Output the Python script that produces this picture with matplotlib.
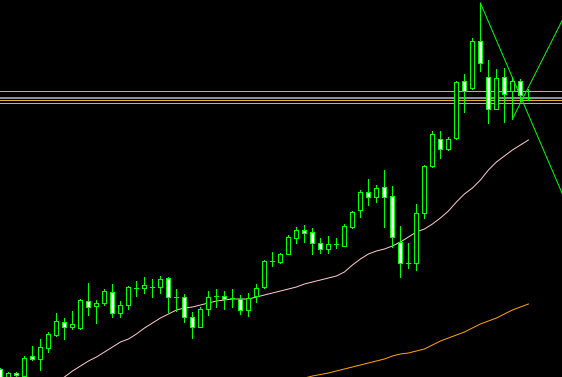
import numpy as np
import matplotlib
matplotlib.use('Agg')
import matplotlib.pyplot as plt
from matplotlib.patches import Rectangle

# OHLC per bar (price units, bar index = position)
opens = [31, 22, 27, 24, 44, 41, 52, 65, 78, 73, 72, 99, 94, 97, 108, 87, 95, 112, 112, 113,
         113, 122, 103, 103, 83, 73, 91, 104, 104, 102, 101, 90, 104, 113, 139, 138, 146, 162, 170, 168,
         157, 151, 156, 154, 173, 190, 208, 203, 213, 204, 158, 137, 137, 187, 234, 261, 251, 262, 319, 312,
         359, 323, 291, 323, 309, 319, 302]
highs = [32, 28, 28, 44, 54, 61, 68, 87, 82, 89, 101, 117, 100, 111, 116, 99, 114, 119, 123, 121,
         124, 123, 111, 106, 88, 93, 109, 111, 109, 111, 105, 107, 116, 140, 148, 147, 165, 173, 175, 172,
         162, 164, 162, 176, 189, 210, 221, 215, 230, 214, 174, 157, 196, 235, 269, 269, 263, 319, 326, 362,
         397, 340, 331, 332, 323, 321, 311]
lows = [18, 20, 23, 23, 40, 30, 48, 64, 61, 71, 71, 85, 77, 95, 83, 83, 91, 104, 107, 103,
        107, 88, 89, 78, 62, 73, 85, 93, 91, 93, 86, 84, 98, 112, 134, 137, 146, 157, 158, 146,
        147, 147, 152, 154, 172, 183, 195, 198, 173, 153, 123, 132, 130, 182, 233, 242, 250, 261, 288, 311,
        329, 277, 291, 278, 281, 299, 300]
closes = [20, 27, 25, 42, 41, 53, 66, 79, 73, 76, 100, 93, 97, 109, 87, 95, 113, 112, 115, 113,
          121, 103, 103, 83, 73, 91, 103, 104, 101, 102, 90, 102, 112, 139, 139, 146, 163, 170, 167, 157,
          151, 156, 156, 174, 188, 208, 203, 212, 203, 163, 137, 137, 187, 234, 266, 251, 261, 318, 309, 359,
          337, 291, 322, 306, 319, 305, 302]

# moving averages (fast starts at bar 8, slow starts at bar 38)
ma_fast_start = 8
ma_fast = [23, 29, 34, 39, 43, 48, 53, 58, 61, 66, 72, 77, 82, 86, 90, 92, 93, 95, 97, 99,
           100, 101, 101, 101, 103, 105, 107, 109, 111, 113, 116, 118, 120, 122, 124, 128, 135, 141, 146, 149,
           151, 154, 158, 163, 168, 171, 176, 182, 189, 198, 206, 212, 220, 230, 238, 244, 250, 255, 260]
ma_slow_start = 38
ma_slow = [22, 24, 25.5, 27, 29, 31, 33, 35, 37, 39, 41, 44, 46, 47, 49, 51, 55, 59, 62, 65,
           68, 72, 76, 79, 82, 86, 90, 93, 96]

# horizontal levels and trend lines
levels_orange = [309, 300.3, 296.7]
level_grey = 302
trend1_x = [60, 70.25]
trend1_y = [397, 206]
trend2_x = [64, 70.25]
trend2_y = [281, 380]

green = '#00FF00'
lw = 0.72  # one pixel

fig = plt.figure(figsize=(5.62, 3.77), dpi=100)
fig.patch.set_facecolor('black')
ax = fig.add_axes([0, 0, 1, 1])
ax.set_facecolor('black')

for lv in levels_orange:
    ax.axhline(lv, color='#F0A830', lw=lw, antialiased=False, zorder=1)
ax.axhline(level_grey, color='#8890A0', lw=1.4, antialiased=False, zorder=1)

xf = np.arange(ma_fast_start, ma_fast_start + len(ma_fast))
ax.plot(xf, ma_fast, color='#FFC8D2', lw=lw, zorder=2)
xs = np.arange(ma_slow_start, ma_slow_start + len(ma_slow))
ax.plot(xs, ma_slow, color='#FFA500', lw=lw, zorder=2)

bw = 0.5
for i in range(len(opens)):
    o, h, l, c = opens[i], highs[i], lows[i], closes[i]
    top = max(o, c)
    bot = min(o, c)
    ax.vlines(i, l, h, color=green, lw=lw, antialiased=False, zorder=3)
    if top == bot:
        ax.hlines(o, i - bw / 2, i + bw / 2, color=green, lw=lw, antialiased=False, zorder=4)
    else:
        face = 'black' if c > o else 'white'
        ax.add_patch(Rectangle((i - bw / 2, bot), bw, top - bot, facecolor=face,
                               edgecolor=green, lw=lw, antialiased=False, zorder=4))

ax.plot(trend1_x, trend1_y, color=green, lw=lw, zorder=5)
ax.plot(trend2_x, trend2_y, color=green, lw=lw, zorder=5)

ax.set_xlim(-0.06, 70.2)
ax.set_ylim(23, 400)
ax.axis('off')

plt.savefig('out.png', dpi=100, facecolor='black')
